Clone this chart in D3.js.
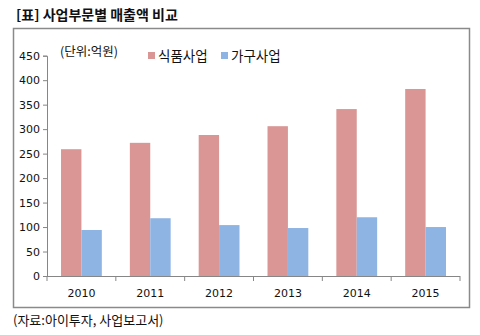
<!DOCTYPE html>
<html><head><meta charset="utf-8">
<script src="https://cdn.jsdelivr.net/npm/d3@7"></script>
<style>body{margin:0;background:#fff}svg{display:block}</style>
</head><body>
<svg id="c" width="480" height="335"></svg>
<script>
const years = ["2010","2011","2012","2013","2014","2015"];
const seriesNames = ["식품사업","가구사업"];
const food = [259, 272, 288, 306, 341, 382];
const furniture = [94, 118, 104, 98, 120, 100];
const yTicks = [0,50,100,150,200,250,300,350,400,450];
const colors = ["#D99694","#8EB4E3"];

const svg = d3.select("#c");
const font = "'Noto Sans CJK KR', 'Noto Sans', sans-serif";
const numFont = "'DejaVu Sans', sans-serif";
const axisColor = "#868686";

// title
svg.append("text").attr("x",16).attr("y",20).attr("font-family",font).attr("font-weight","bold")
  .attr("font-size",14).attr("fill","#111").text("[표] 사업부문별 매출액 비교");

// frame
svg.append("rect").attr("x",13.5).attr("y",28.5).attr("width",456).attr("height",279)
  .attr("fill","none").attr("stroke","#8a8a8a").attr("stroke-width",1.5);

const x0 = d3.scaleBand().domain(years).range([47,460]);
const y = d3.scaleLinear().domain([0,450]).range([276,55.7]);
const bw = 20.4;
const data = years.map((yr,i)=>({yr, vals:[food[i], furniture[i]]}));

const g = svg.append("g");
data.forEach(d=>{
  const cx = x0(d.yr) + x0.bandwidth()/2;
  d.vals.forEach((v,j)=>{
    g.append("rect").attr("x", cx - bw + j*bw).attr("y", y(v))
      .attr("width", bw).attr("height", y(0)-y(v)).attr("fill", colors[j]);
  });
});

// y axis
const ya = svg.append("g").attr("transform","translate(47,0)")
  .call(d3.axisLeft(y).tickValues(yTicks).tickSize(4).tickPadding(3));
ya.select(".domain").attr("stroke",axisColor);
ya.selectAll(".tick line").attr("stroke",axisColor);
ya.selectAll("text").attr("font-family",numFont).attr("font-size",11).attr("fill","#111");

// x axis
const xa = svg.append("g").attr("transform","translate(0,276)");
xa.append("line").attr("x1",47).attr("x2",460).attr("y1",0.5).attr("y2",0.5).attr("stroke",axisColor);
const bounds = years.map(yr=>x0(yr)).concat([x0.range()[1]]);
xa.selectAll("line.t").data(bounds).join("line").attr("class","t")
  .attr("x1",d=>d).attr("x2",d=>d).attr("y1",0).attr("y2",5).attr("stroke",axisColor);
xa.selectAll("text").data(years).join("text")
  .attr("x",d=>x0(d)+x0.bandwidth()/2).attr("y",21).attr("text-anchor","middle")
  .attr("font-family",numFont).attr("font-size",11).attr("fill","#111").text(d=>d);

// unit label
svg.append("text").attr("x",60).attr("y",56).attr("font-family",font).attr("font-size",12.5)
  .attr("fill","#111").text("(단위:억원)");

// legend
const lx = [148, 221];
seriesNames.forEach((n,i)=>{
  svg.append("rect").attr("x",lx[i]).attr("y",52).attr("width",7).attr("height",7).attr("fill",colors[i]);
  svg.append("text").attr("x",lx[i]+10).attr("y",61).attr("font-family",font).attr("font-size",13.5)
    .attr("fill","#111").text(n);
});

// source
svg.append("text").attr("x",13).attr("y",325).attr("font-family",font).attr("font-size",13)
  .attr("fill","#111").text("(자료:아이투자, 사업보고서)");
</script>
</body></html>
